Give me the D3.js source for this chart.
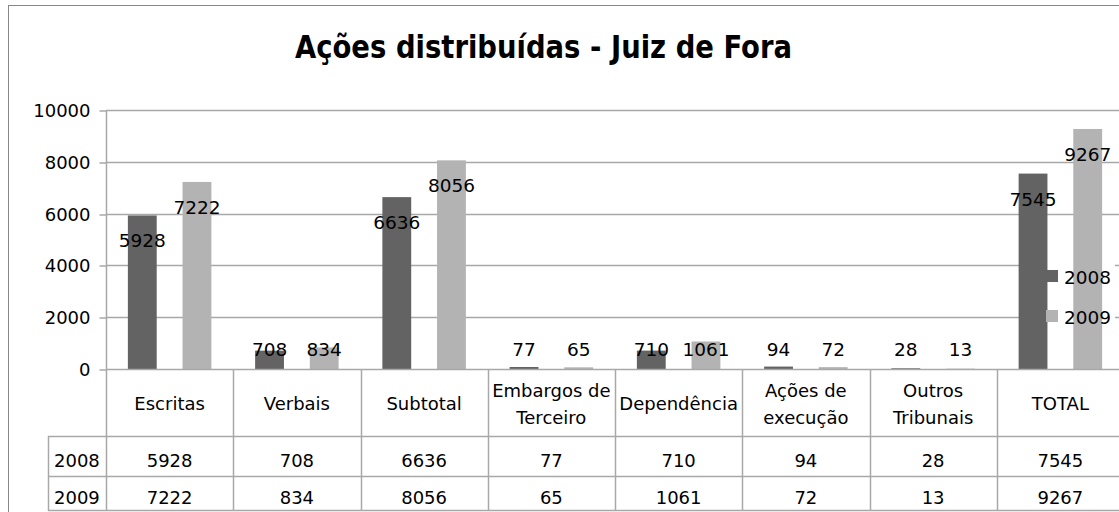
<!DOCTYPE html>
<html>
<head>
<meta charset="utf-8">
<script src="https://cdn.jsdelivr.net/npm/d3@7"></script>
<style>
  body { margin: 0; background: #fff; }
  svg { display: block; font-family: 'DejaVu Sans', sans-serif; }
</style>
</head>
<body>
<svg></svg>
<script>
const categories = ['Escritas', 'Verbais', 'Subtotal', 'Embargos de|Terceiro', 'Dependência', 'Ações de|execução', 'Outros|Tribunais', 'TOTAL'];
const years = ['2008', '2009'];
const values2008 = [5928, 708, 6636, 77, 710, 94, 28, 7545];
const values2009 = [7222, 834, 8056, 65, 1061, 72, 13, 9267];
const yTicks = [0, 2000, 4000, 6000, 8000, 10000];
const colors = ['#636363', '#b3b3b3'];

const width = 1119;
const height = 512;
const svg = d3.select('svg')
    .attr('width', width)
    .attr('height', height);

const series = [values2008, values2009];
const rows = categories.map((c, i) => ({ cat: c, vals: series.map(s => s[i]) }));

const plotLeft = 106;
const band = 127.25;
const x = d3.scaleBand()
    .domain(categories)
    .range([plotLeft, plotLeft + band * categories.length])
    .padding(0);
const x1 = d3.scaleBand()
    .domain(years)
    .range([0, x.bandwidth()])
    .paddingInner(0.4727)
    .paddingOuter(0.4);
const y = d3.scaleLinear()
    .domain([0, 10000])
    .range([369, 110]);

const right = x.range()[1];
const lineColor = '#a8a8a8';

// outer chart border
svg.append('rect')
    .attr('x', 8.5).attr('y', 5.5)
    .attr('width', 1200).attr('height', 600)
    .attr('fill', 'none')
    .attr('stroke', '#878787');

// title
svg.append('text')
    .attr('x', 543.5)
    .attr('y', 58)
    .attr('text-anchor', 'middle')
    .attr('font-size', 31.5)
    .attr('font-weight', 'bold')
    .attr('textLength', 497)
    .attr('lengthAdjust', 'spacingAndGlyphs')
    .text('Ações distribuídas - Juiz de Fora');

// gridlines
svg.append('g').selectAll('line').data(yTicks.filter(t => t > 0))
    .enter().append('line')
    .attr('x1', plotLeft).attr('x2', right)
    .attr('y1', d => Math.round(y(d)) + 0.5)
    .attr('y2', d => Math.round(y(d)) + 0.5)
    .attr('stroke', lineColor)
    .attr('stroke-width', 1.5);

// y axis
const yAxis = svg.append('g')
    .attr('transform', `translate(${plotLeft + 0.5},0)`)
    .call(d3.axisLeft(y).tickValues(yTicks).tickFormat(d3.format('d')).tickSize(7).tickPadding(9));
yAxis.select('.domain').remove();
yAxis.selectAll('line').attr('stroke', lineColor).attr('stroke-width', 1.5)
    .attr('transform', d => `translate(0,${Math.round(y(d)) + 0.5 - y(d)})`);
yAxis.selectAll('text')
    .attr('font-family', 'DejaVu Sans')
    .attr('font-size', 18)
    .attr('fill', '#000')
    .attr('dy', '0.36em');

// legend background (hides gridlines behind it)
svg.append('rect')
    .attr('x', 1041).attr('y', 245)
    .attr('width', 74).attr('height', 92)
    .attr('fill', '#fff');

// bars
const catG = svg.append('g').selectAll('g').data(rows)
    .enter().append('g')
    .attr('transform', d => `translate(${x(d.cat)},0)`);

catG.selectAll('rect').data(d => d.vals.map((v, i) => ({ year: years[i], v, i })))
    .enter().append('rect')
    .attr('x', d => x1(d.year))
    .attr('y', d => y(d.v))
    .attr('width', x1.bandwidth())
    .attr('height', d => y(0) - y(d.v))
    .attr('fill', d => colors[d.i]);

catG.selectAll('text.lbl').data(d => d.vals.map((v, i) => ({ year: years[i], v, i })))
    .enter().append('text')
    .attr('class', 'lbl')
    .attr('x', d => x1(d.year) + x1.bandwidth() / 2)
    .attr('y', d => Math.min(y(d.v) + 32, y(0) - 13))
    .attr('text-anchor', 'middle')
    .attr('font-size', 18.5)
    .text(d => d.v);

// table / axis lines
const t = svg.append('g')
    .attr('stroke', lineColor)
    .attr('stroke-width', 1.5);
t.append('line').attr('x1', plotLeft).attr('x2', right).attr('y1', 369.5).attr('y2', 369.5);
t.append('line').attr('x1', plotLeft + 0.5).attr('x2', plotLeft + 0.5).attr('y1', 110).attr('y2', 511);
[436.5, 476.5, 510.5].forEach(yy => {
    t.append('line').attr('x1', 48).attr('x2', right).attr('y1', yy).attr('y2', yy);
});
t.append('line').attr('x1', 48.5).attr('x2', 48.5).attr('y1', 436).attr('y2', 511);
t.selectAll('line.cat').data(categories.slice(1))
    .enter().append('line')
    .attr('class', 'cat')
    .attr('x1', d => Math.round(x(d)) + 0.5)
    .attr('x2', d => Math.round(x(d)) + 0.5)
    .attr('y1', 369).attr('y2', 511);

// category headers
svg.append('g').selectAll('text').data(categories)
    .enter().append('text')
    .attr('text-anchor', 'middle')
    .attr('font-size', 18)
    .each(function (d) {
        const parts = d.split('|');
        const cx = x(d) + x.bandwidth() / 2;
        const base = parts.length === 1 ? [410] : [397, 424];
        parts.forEach((p, i) => {
            d3.select(this).append('tspan')
                .attr('x', cx)
                .attr('y', base[i])
                .text(p);
        });
    });

// table values
const rowBase = [467, 504];
years.forEach((yr, r) => {
    svg.append('text')
        .attr('x', 54)
        .attr('y', rowBase[r])
        .attr('font-size', 18)
        .text(yr);
    svg.append('g').selectAll('text').data(rows)
        .enter().append('text')
        .attr('x', d => x(d.cat) + x.bandwidth() / 2)
        .attr('y', rowBase[r])
        .attr('text-anchor', 'middle')
        .attr('font-size', 18)
        .text(d => d.vals[r]);
});

// legend
const legend = svg.append('g');
years.forEach((yr, i) => {
    legend.append('rect')
        .attr('x', 1046).attr('y', 270 + i * 40)
        .attr('width', 12).attr('height', 12)
        .attr('fill', colors[i]);
    legend.append('text')
        .attr('x', 1064).attr('y', 284 + i * 39.5)
        .attr('font-size', 18.5)
        .text(yr);
});
</script>
</body>
</html>
